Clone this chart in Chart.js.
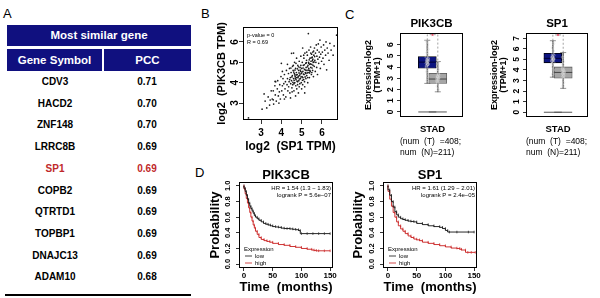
<!DOCTYPE html>
<html>
<head>
<meta charset="utf-8">
<script src="https://cdn.jsdelivr.net/npm/chart.js@4.4.1/dist/chart.umd.min.js"></script>
<style>
  body { margin:0; width:600px; height:298px; background:#fff; position:relative; overflow:hidden;
         font-family:'Liberation Sans', Arial, sans-serif; }
  canvas { position:absolute; }
  .tag { position:absolute; font-size:13px; line-height:13px; color:#000; }
  .cell { position:absolute; text-align:center; font-weight:bold; }
  .head { background:#10107f; color:#fff; font-size:11.5px; }
  .row { font-size:10px; color:#000; }
</style>
</head>
<body>
<div class="tag" style="left:3px;top:7px">A</div>
<div class="tag" style="left:201px;top:7px">B</div>
<div class="tag" style="left:345px;top:8px">C</div>
<div class="tag" style="left:195px;top:166px">D</div>
<div id="tbl"></div>

<canvas id="scat" width="130" height="134" style="left:215px;top:20px"></canvas>
<canvas id="boxPik" width="109" height="145" style="left:364px;top:15px"></canvas>
<canvas id="boxSp1" width="108" height="145" style="left:490px;top:15px"></canvas>
<canvas id="kmPik" width="132" height="133" style="left:208px;top:165px"></canvas>
<canvas id="kmSp1" width="133" height="133" style="left:351px;top:165px"></canvas>

<script>
const FONT = "'Liberation Sans', Arial, sans-serif";

// ---- panel A: most similar genes
const geneSymbols = ['CDV3', 'HACD2', 'ZNF148', 'LRRC8B', 'SP1', 'COPB2', 'QTRTD1', 'TOPBP1', 'DNAJC13', 'ADAM10'];
const pccValues = ['0.71', '0.70', '0.70', '0.69', '0.69', '0.69', '0.69', '0.69', '0.69', '0.68'];
const highlightGene = 'SP1';

// ---- panel B: log2 TPM, SP1 (x) vs PIK3CB (y)
const sp1Log2 = [2.38,3.05,3.2,3.28,3.35,3.42,3.5,3.15,3.45,3.55,3.6,3.62,3.68,3.7,3.75,3.8,3.82,3.85,3.9,3.92,3.95,3.98,3.72,3.88,3.6,3.69,
  4.02,4.05,4.08,4.1,4.12,4.15,4.18,4.2,4.22,4.25,4.28,4.3,4.32,4.35,4.36,4.38,4.4,4.42,4.44,4.46,4.48,4.05,4.15,4.3,4.45,4.0,
  4.5,4.52,4.54,4.55,4.56,4.58,4.6,4.62,4.64,4.65,4.66,4.68,4.7,4.71,4.72,4.74,4.75,4.76,4.78,4.8,4.81,4.82,4.84,4.85,4.86,4.88,4.9,4.91,4.92,4.94,4.95,4.96,4.98,4.99,4.6,4.7,4.5,
  5.0,5.02,5.03,5.05,5.06,5.08,5.1,5.11,5.12,5.14,5.15,5.16,5.18,5.2,5.21,5.22,5.24,5.25,5.26,5.28,5.3,5.31,5.32,5.34,5.35,5.36,5.38,5.4,5.41,5.42,5.44,5.45,5.46,5.48,5.49,5.33,5.05,5.15,
  5.5,5.52,5.54,5.55,5.57,5.58,5.6,5.62,5.63,5.65,5.67,5.68,5.7,5.72,5.74,5.75,5.77,5.78,5.8,5.82,5.84,5.86,5.88,5.9,5.92,5.94,5.96,5.98,
  6.02,6.05,6.08,6.1,6.14,6.18,6.2,6.23,6.26,6.3,6.35,6.39,6.45,6.55,6.72,6.6,
  4.52,4.57,4.61,4.63,4.67,4.69,4.73,4.77,4.79,4.83,4.87,4.89,4.93,4.97,5.01,5.04,5.07,5.09,5.13,5.17,5.19,5.23,5.27,5.29,5.33,5.37,5.39,5.43,5.47,5.51,5.53,5.56,5.59,5.61,5.64,
  4.41,4.47,4.53,4.59,4.62,4.66,4.72,4.76,4.8,4.84,4.88,4.92,4.96,5.0,5.06,5.1,5.14,5.2,5.25,5.3,5.35,5.4,5.45,5.5,5.55];
const pik3cbLog2 = [2.27,2.7,3.1,2.76,3.3,2.9,3.6,3.45,3.15,3.2,3.6,2.95,3.85,3.4,3.1,3.7,4.1,3.35,3.55,3.9,3.2,4.3,4.05,3.0,3.16,4.06,
  3.6,3.85,4.2,3.4,3.95,4.4,3.7,4.05,3.3,4.6,3.9,4.2,3.6,4.45,3.8,4.05,4.7,3.5,4.25,3.95,4.5,4.55,3.2,4.9,3.25,4.95,
  4.1,3.75,4.35,4.8,3.9,4.6,4.2,3.6,4.45,5.0,4.0,4.3,4.7,3.85,4.15,4.5,5.2,3.7,4.4,4.05,4.85,4.25,3.5,4.6,4.1,5.05,4.35,3.95,4.75,4.2,4.55,5.3,4.0,4.45,5.45,3.35,5.44,
  4.7,4.3,5.0,3.9,4.55,4.85,4.15,5.2,4.4,4.65,3.8,5.45,4.5,4.95,4.2,4.75,5.1,4.35,4.6,5.35,4.0,4.85,4.5,5.0,4.7,5.6,4.25,4.9,5.2,4.55,5.75,4.75,5.05,4.4,5.4,6.41,5.7,3.5,
  4.9,5.25,4.6,5.5,5.0,4.3,5.35,4.8,5.7,5.1,4.55,5.45,5.0,5.85,4.75,5.3,5.6,4.4,5.15,5.9,4.95,5.5,5.25,6.09,4.7,5.4,5.75,5.05,
  5.5,5.2,5.85,4.9,5.6,5.35,6.0,4.63,5.7,5.45,5.1,5.93,5.6,5.35,6.33,5.8,
  4.28,4.02,4.52,4.12,4.62,4.22,4.38,4.08,4.68,4.32,4.48,4.18,4.62,4.28,4.52,4.12,4.72,4.42,4.88,4.28,4.62,4.98,4.48,4.78,4.62,5.12,4.48,4.92,5.22,4.72,5.08,4.85,5.55,5.02,5.28,
  4.15,4.72,3.55,4.85,3.95,4.38,4.95,4.25,3.9,4.78,3.8,4.42,4.85,3.7,4.25,5.35,4.05,4.45,5.5,4.25,4.95,4.6,5.45,4.5,5.15];
const scatX = { min: 2.11, max: 6.79, ticks: [3, 4, 5, 6] };
const scatY = { min: 2.17, max: 6.73, ticks: [3, 4, 5, 6] };

// ---- panel C: box plots (tumor = 0, normal = 1)
const groupPos = [0, 1];
const pikQ1 = [3.9, 2.55], pikQ3 = [4.95, 3.45], pikMed = [4.45, 2.94], pikLo = [2.55, 1.8], pikHi = [6.4, 4.5];
const sp1Q1 = [4.68, 3.23], sp1Q3 = [5.58, 4.29], sp1Med = [5.1, 3.77], sp1Lo = [3.32, 2.26], sp1Hi = [6.77, 5.65];
const pikBracket = [6.4, 6.9, 6.9, 4.5];
const sp1Bracket = [6.77, 7.32, 7.32, 5.65];
const pikDotX = [-0.08,0.05,-0.02,0.09,-0.1,0.02,-0.05,0.07,0.0,-0.07,0.04,-0.03,0.06,-0.04,0.03,-0.01,0.02,-0.06,0.08,-0.09,0.01,0.06,
  0.93,1.05,0.98,1.08,0.93,1.02,0.96,1.06,1.0,0.97,1.03,0.99,1.01,0.95,1.04,1.09,0.91,1.02];
const pikDotY = [4.1,4.3,4.5,4.7,4.9,4.2,4.6,4.8,4.4,3.95,5.1,5.3,5.6,3.6,3.2,2.8,6.0,6.3,4.55,4.35,4.65,4.25,
  2.7,2.9,3.1,3.3,2.8,3.0,3.2,3.4,2.6,3.6,3.8,4.1,4.4,2.3,2.0,3.05,2.95,3.15];
const sp1DotX = [-0.08,0.05,-0.02,0.09,-0.1,0.02,-0.05,0.07,0.0,-0.07,0.04,-0.03,0.06,-0.04,0.03,-0.01,0.08,-0.09,0.01,
  0.93,1.05,0.98,1.08,0.94,1.02,0.96,1.06,1.0,0.97,1.03,0.99,1.01,0.95,1.04,1.0,1.09,0.91];
const sp1DotY = [4.8,5.0,5.2,5.4,4.9,5.1,5.3,4.7,5.5,4.6,5.8,6.1,6.5,4.3,4.0,3.6,5.05,5.15,4.95,
  3.3,3.5,3.7,3.9,4.1,3.4,3.6,3.8,4.0,4.2,3.2,4.5,4.8,5.2,2.8,2.5,3.75,3.85];
const boxCohort = 'STAD';
const boxNum = ['(num  (T)  =408;', 'num  (N)=211)'];

// ---- panel D: Kaplan-Meier, time in months
const pikLowT = [0,2,4,6,8,10,12,14,16,18,20,23,26,30,34,38,42,46,50,55,60,65,70,75,80,85,90,95,98,100,110,120,130,140,150];
const pikLowS = [1,0.97,0.93,0.88,0.83,0.78,0.74,0.71,0.68,0.65,0.62,0.6,0.58,0.56,0.54,0.52,0.51,0.5,0.49,0.48,0.475,0.47,0.46,0.455,0.455,0.45,0.445,0.44,0.43,0.39,0.39,0.39,0.39,0.39,0.39];
const pikHighT = [0,2,4,6,8,10,12,14,16,18,20,23,26,30,35,40,45,50,60,70,80,90,100,110,118,122,126,130,140,150];
const pikHighS = [1,0.96,0.9,0.84,0.78,0.72,0.66,0.6,0.55,0.5,0.46,0.42,0.38,0.34,0.315,0.3,0.29,0.28,0.265,0.25,0.24,0.225,0.215,0.2,0.19,0.18,0.175,0.17,0.17,0.17];
const sp1LowT = [0,3,6,9,12,15,18,22,26,30,35,40,45,50,60,70,80,90,95,100,104,107,120,140,150];
const sp1LowS = [1,0.95,0.88,0.8,0.73,0.67,0.63,0.6,0.58,0.57,0.56,0.55,0.545,0.54,0.52,0.505,0.49,0.48,0.47,0.455,0.43,0.41,0.41,0.41,0.41];
const sp1HighT = [0,3,6,9,12,15,18,22,26,30,35,40,45,50,55,60,70,80,90,100,110,120,125,128,135,139,145,152];
const sp1HighS = [1,0.93,0.83,0.74,0.66,0.6,0.54,0.49,0.45,0.42,0.39,0.36,0.34,0.32,0.31,0.3,0.28,0.265,0.25,0.235,0.22,0.205,0.2,0.19,0.18,0.15,0.15,0.15];
const kmXTicks = [0, 50, 100, 150];
const kmYTicks = [0, 0.2, 0.4, 0.6, 0.8, 1.0];
const pikStats = ['HR = 1.54 (1.3 \u2212 1.83)', 'logrank P = 5.6e\u221207'];
const sp1Stats = ['HR = 1.61 (1.29 \u2212 2.01)', 'logrank P = 2.4e\u221205'];
const kmLegend = ['low', 'high'];

//////////////////////////////////////////////////////////////////////////////////////

// table for panel A
(function () {
  const t = document.getElementById('tbl');
  let html = '<div class="cell head" style="left:7px;top:25px;width:184px;height:21px;line-height:21px">Most similar gene</div>' +
             '<div class="cell head" style="left:7px;top:49px;width:95px;height:22px;line-height:22px">Gene Symbol</div>' +
             '<div class="cell head" style="left:104px;top:49px;width:87px;height:22px;line-height:22px">PCC</div>';
  geneSymbols.forEach(function (g, i) {
    const y = 82 + i * 21.7 - 7;
    const col = g === highlightGene ? '#c0282a' : '#000';
    html += '<div class="cell row" style="left:7px;top:' + y + 'px;width:96px;line-height:14px;color:' + col + '">' + g + '</div>';
    html += '<div class="cell row" style="left:103px;top:' + y + 'px;width:88px;line-height:14px;color:' + col + '">' + pccValues[i] + '</div>';
  });
  html += '<div style="position:absolute;left:5px;top:294px;width:186px;height:1.5px;background:#000"></div>';
  t.innerHTML = html;
})();

Chart.defaults.font.family = FONT;
Chart.defaults.color = '#000';

// frame around the plot area + free text (titles, stats, legends)
const notesPlugin = {
  id: 'notes',
  afterDatasetsDraw(chart, args, opts) {
    const a = chart.chartArea, c = chart.ctx;
    c.save();
    c.strokeStyle = '#000';
    c.lineWidth = 1;
    c.strokeRect(Math.round(a.left) + 0.5, Math.round(a.top) + 0.5, Math.round(a.width) - 1, Math.round(a.height) - 1);
    (opts.items || []).forEach(function (it) {
      const x = a.left + it.fx * a.width + (it.dx || 0);
      const y = a.top + it.fy * a.height + (it.dy || 0);
      if (it.line) {
        c.strokeStyle = it.color;
        c.lineWidth = 0.8;
        c.beginPath(); c.moveTo(x, y); c.lineTo(x + it.line, y); c.stroke();
        return;
      }
      c.font = it.font;
      c.fillStyle = it.color || '#000';
      c.textAlign = it.align || 'left';
      c.textBaseline = 'middle';
      c.fillText(it.text, x, y);
    });
    c.restore();
  }
};
Chart.register(notesPlugin);

function yAxis(o) {
  return {
    type: 'linear', position: 'left', min: o.min, max: o.max,
    afterBuildTicks: function (s) { s.ticks = o.ticks.map(function (v) { return { value: v }; }); },
    afterFit: function (s) { s.width = o.width; },
    border: { display: false },
    grid: { drawOnChartArea: false, color: '#000', tickLength: o.tl || 3, lineWidth: 0.8 },
    ticks: { minRotation: 90, maxRotation: 90, crossAlign: 'center', padding: o.pad, font: o.tickFont,
             callback: o.fmt || function (v) { return v; } },
    title: { display: true, text: o.title, font: o.titleFont, padding: 0 }
  };
}

function xAxis(o) {
  return {
    type: 'linear', position: 'bottom', min: o.min, max: o.max,
    afterBuildTicks: function (s) { s.ticks = o.ticks.map(function (v) { return { value: v }; }); },
    afterFit: function (s) { s.height = o.height; },
    border: { display: false },
    grid: { display: o.tl !== 0, drawOnChartArea: false, color: '#000', tickLength: o.tl || 3, lineWidth: 0.8 },
    ticks: { maxRotation: 0, padding: o.pad, font: o.tickFont, callback: o.fmt || function (v) { return v; } },
    title: { display: !!o.title, text: o.title, font: o.titleFont, padding: { top: 0, bottom: o.titlePad || 0 } }
  };
}

// ---- B: scatter
new Chart(document.getElementById('scat'), {
  type: 'scatter',
  data: {
    datasets: [{
      data: sp1Log2.map(function (x, i) { return { x: x, y: pik3cbLog2[i] }; }),
      pointRadius: 0.85, pointBorderWidth: 0, pointBackgroundColor: '#1a1a1a'
    }]
  },
  options: {
    animation: false, responsive: false,
    layout: { padding: { top: 7, right: 7 } },
    plugins: {
      legend: { display: false }, tooltip: { enabled: false },
      notes: { items: [
        { text: 'p-value = 0', fx: 0, fy: 0, dx: 4, dy: 8, font: '5.5px ' + FONT },
        { text: 'R = 0.69', fx: 0, fy: 0, dx: 4, dy: 15, font: '5.5px ' + FONT }
      ] }
    },
    scales: {
      x: xAxis({ min: scatX.min, max: scatX.max, ticks: scatX.ticks, height: 34, tl: 4, pad: 3,
                 tickFont: { size: 10, weight: 'bold' }, title: 'log2  (SP1 TPM)', titleFont: { size: 12, weight: 'bold' } }),
      y: yAxis({ min: scatY.min, max: scatY.max, ticks: scatY.ticks, width: 28, tl: 4, pad: 1,
                 tickFont: { size: 10, weight: 'bold' }, title: 'log2  (PIK3CB TPM)', titleFont: { size: 11, weight: 'bold' } })
    }
  }
});

// ---- C: box plots
function boxChart(id, name, q1, q3, med, lo, hi, bracket, dotX, dotY, yMax, yTicks, width) {
  const navy = '#0c1480', grey = '#a6a6a6';
  new Chart(document.getElementById(id), {
    type: 'scatter',
    data: {
      datasets: [
        { type: 'scatter', data: [{ x: 0.5, y: bracket[1] }], pointStyle: 'star', pointRadius: 1.2,
          pointBorderColor: '#e0506a', pointBorderWidth: 0.8, order: 0 },
        { type: 'line', data: [0, 0, 1, 1].map(function (x, i) { return { x: x, y: bracket[i] }; }),
          borderColor: '#8c8c8c', borderWidth: 0.8, borderDash: [2, 2], pointRadius: 0, order: 1 },
        { type: 'scatter', data: dotX.map(function (x, i) { return { x: x, y: dotY[i] }; }),
          pointRadius: 1.3, pointBorderWidth: 0.5, pointBorderColor: 'rgba(215,215,215,0.9)', pointBackgroundColor: 'rgba(0,0,0,0)', order: 2 },
        { type: 'scatter', data: groupPos.map(function (x, i) { return { x: x, y: med[i] }; }),
          pointStyle: 'line', pointRadius: 9, pointBorderWidth: 1, pointBorderColor: ['#000033', '#444'], order: 3 },
        { type: 'bar', data: groupPos.map(function (x, i) { return { x: x, y: [q1[i], q3[i]] }; }),
          backgroundColor: [navy, grey], borderColor: ['#000', '#555'], borderWidth: 0.8, borderSkipped: false,
          barThickness: 18, grouped: false, order: 4 },
        { type: 'bar', data: groupPos.map(function (x, i) { return { x: x, y: [lo[i], hi[i]] }; }),
          backgroundColor: '#777', barThickness: 1, grouped: false, order: 5 },
        { type: 'scatter', data: groupPos.map(function (x, i) { return { x: x, y: lo[i] }; })
            .concat(groupPos.map(function (x, i) { return { x: x, y: hi[i] }; })),
          pointStyle: 'line', pointRadius: 3, pointBorderWidth: 0.8, pointBorderColor: '#777', order: 5 },
        { type: 'scatter', data: groupPos.map(function (x) { return { x: x, y: 0 }; }),
          pointStyle: 'line', pointRadius: 9, pointBorderWidth: 1, pointBorderColor: '#555', order: 6 }
      ]
    },
    options: {
      animation: false, responsive: false,
      layout: { padding: { top: 18, right: 7 } },
      plugins: {
        legend: { display: false }, tooltip: { enabled: false },
        notes: { items: [
          { text: name, fx: 0.5, fy: 0, dy: -9, align: 'center', font: 'bold 11.5px ' + FONT },
          { text: boxNum[0], fx: 0, fy: 1, dx: 0, dy: 25, font: '8.5px ' + FONT },
          { text: boxNum[1], fx: 0, fy: 1, dx: 0, dy: 36, font: '8.5px ' + FONT }
        ] }
      },
      scales: {
        x: xAxis({ min: -1.1, max: 1.9, ticks: [0.5], height: 43, tl: 0, pad: 4,
                   tickFont: { size: 9.5, weight: 'bold' }, fmt: function () { return boxCohort; } }),
        y: yAxis({ min: -0.45, max: yMax, ticks: yTicks, width: width, tl: 3, pad: 4,
                   tickFont: { size: 8.5, weight: 'bold' },
                   title: ['Expression-log2', '(TPM+1)'], titleFont: { size: 9, weight: 'bold', lineHeight: 1 } })
      }
    }
  });
}
boxChart('boxPik', 'PIK3CB', pikQ1, pikQ3, pikMed, pikLo, pikHi, pikBracket, pikDotX, pikDotY, 7.05, [0, 1, 2, 3, 4, 5, 6], 36);
boxChart('boxSp1', 'SP1', sp1Q1, sp1Q3, sp1Med, sp1Lo, sp1Hi, sp1Bracket, sp1DotX, sp1DotY, 7.5, [0, 1, 2, 3, 4, 5, 6, 7], 36);

// ---- D: survival curves
function kmChart(id, name, lowT, lowS, highT, highS, stats, yWidth) {
  const black = '#111', red = '#c81e1e';
  function curve(t, s, col) {
    return { data: t.map(function (v, i) { return { x: v, y: s[i] }; }), borderColor: col, borderWidth: 0.9,
             stepped: 'after', pointStyle: 'line', pointRotation: 90, pointRadius: 1.3,
             pointBorderColor: col, pointBorderWidth: 0.7 };
  }
  new Chart(document.getElementById(id), {
    type: 'line',
    data: { datasets: [curve(lowT, lowS, black), curve(highT, highS, red)] },
    options: {
      animation: false, responsive: false,
      layout: { padding: { top: 17, right: 7 } },
      plugins: {
        legend: { display: false }, tooltip: { enabled: false },
        notes: { items: [
          { text: name, fx: 0.5, fy: 0, dy: -7, align: 'center', font: 'bold 13px ' + FONT },
          { text: stats[0], fx: 1, fy: 0, dx: -2, dy: 6, align: 'right', font: '6px ' + FONT },
          { text: stats[1], fx: 1, fy: 0, dx: -2, dy: 13, align: 'right', font: '6px ' + FONT },
          { text: 'Expression', fx: 0, fy: 0, dx: 5, dy: 67, font: '6px ' + FONT },
          { line: 7, fx: 0, fy: 0, dx: 6, dy: 74, color: black },
          { text: kmLegend[0], fx: 0, fy: 0, dx: 16, dy: 74, font: '6px ' + FONT },
          { line: 7, fx: 0, fy: 0, dx: 6, dy: 81, color: red },
          { text: kmLegend[1], fx: 0, fy: 0, dx: 16, dy: 81, font: '6px ' + FONT }
        ] }
      },
      scales: {
        x: xAxis({ min: -8.7, max: 155, ticks: kmXTicks, height: 30, tl: 3, pad: 0,
                   tickFont: { size: 8, weight: 'bold' }, title: 'Time  (months)', titleFont: { size: 13, weight: 'bold' }, titlePad: 3 }),
        y: yAxis({ min: -0.05, max: 1.05, ticks: kmYTicks, width: yWidth, tl: 3, pad: 2.5,
                   tickFont: { size: 7.5, weight: 'bold' }, fmt: function (v) { return v.toFixed(1); },
                   title: 'Probability', titleFont: { size: 13, weight: 'bold' } })
      }
    }
  });
}
kmChart('kmPik', 'PIK3CB', pikLowT, pikLowS, pikHighT, pikHighS, pikStats, 31);
kmChart('kmSp1', 'SP1', sp1LowT, sp1LowS, sp1HighT, sp1HighS, sp1Stats, 32);
</script>
</body>
</html>
